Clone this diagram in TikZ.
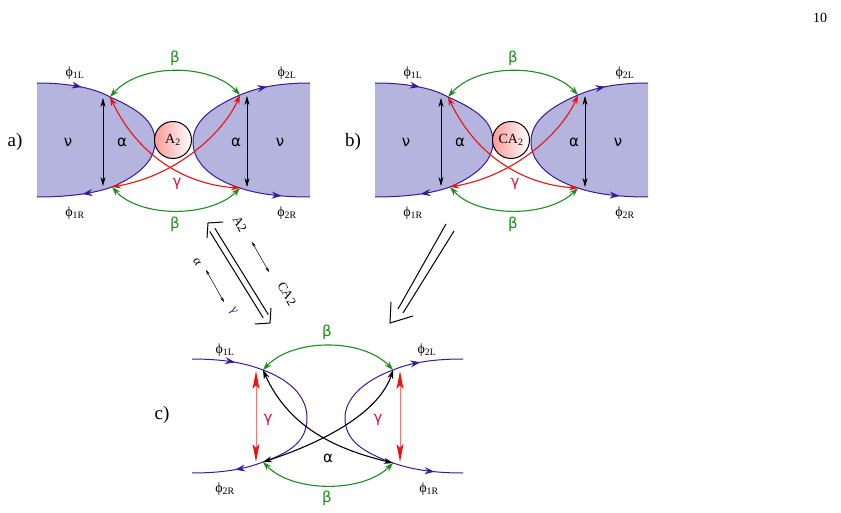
\documentclass[tikz,border=0pt]{standalone}
\usepackage{fontspec}
\setmainfont{Liberation Serif}
\newfontfamily\gk{DejaVu Sans}
\usetikzlibrary{arrows.meta,decorations.markings,calc}
\definecolor{lob}{HTML}{3A1A9A}
\definecolor{lobfill}{HTML}{B4B4DE}
\definecolor{grn}{HTML}{1E8C1E}
\definecolor{rd}{HTML}{EE1111}
\definecolor{gam}{HTML}{DD1144}
\tikzset{
  edge/.style={lob,line width=1pt},
  fw/.style={edge,postaction={decorate},decoration={markings,mark=at position 0.6 with {\arrow{Stealth[length=10pt,width=7pt]}}}},
  bw/.style={edge,postaction={decorate},decoration={markings,mark=at position 0.6 with {\arrowreversed{Stealth[length=10pt,width=7pt]}}}},
  dbl/.style={{Stealth[length=9pt,width=6pt]}-{Stealth[length=9pt,width=6pt]},line width=1.1pt},
  lab/.style={font=\fontsize{14}{14}\selectfont},
  rlab/.style={font=\fontsize{13}{13}\selectfont,inner sep=0pt,rotate=-60},
  glab/.style={font=\gk\fontsize{15}{15}\selectfont},
  thinarr/.style={{Stealth[length=9pt,width=5pt]}-{Stealth[length=9pt,width=5pt]},line width=0.6pt},
  small/.style={{Stealth[length=5pt,width=3pt]}-{Stealth[length=5pt,width=3pt]},line width=0.5pt},
  big/.style={line width=1pt},
}
\newcommand{\lobes}[1]{%
  \path[#1] (37,83) .. controls (75,83) and (98,90) .. (110,97)
    .. controls (145,112) and (155,125) .. (155,142)
    .. controls (155,160) and (140,175) .. (112,187)
    .. controls (98,192) and (75,197) .. (37,197) -- cycle;
  \path[#1] (310,83) .. controls (272,83) and (252,90) .. (240,95)
    .. controls (205,110) and (193,125) .. (193,142)
    .. controls (193,160) and (208,178) .. (240,188)
    .. controls (252,192) and (272,197) .. (310,197) -- cycle;
  \draw[edge] (110,97) .. controls (145,112) and (155,125) .. (155,142)
    .. controls (155,160) and (140,175) .. (112,187);
  \draw[edge] (240,95) .. controls (205,110) and (193,125) .. (193,142)
    .. controls (193,160) and (208,178) .. (240,188);
  \draw[fw] (37,83) .. controls (75,83) and (98,90) .. (110,97);
  \draw[bw] (37,197) .. controls (75,197) and (98,192) .. (112,187);
  \draw[bw] (310,83) .. controls (272,83) and (252,90) .. (240,95);
  \draw[fw] (240,188) .. controls (252,192) and (272,197) .. (310,197);
}
\newcommand{\panel}[3]{%
  \begin{scope}[xshift=#1]
  \lobes{fill=lobfill}
  \coordinate (tl) at (110,97); \coordinate (bl) at (112,187);
  \coordinate (tr) at (240,95); \coordinate (br) at (240,188);
  \draw[dbl,grn] (tl) .. controls (140,63) and (210,63) .. (tr);
  \draw[dbl,grn] (bl) .. controls (140,218) and (210,218) .. (br);
  \draw[dbl,rd] (tl) .. controls (140,160) and (190,185) .. (br);
  \draw[dbl,rd] (bl) .. controls (180,175) and (225,130) .. (tr);
  \draw[left color=red!40,right color=white,line width=1pt] (173,140) circle[radius=18.5pt];
  \node[lab] (c) at (173,140) {#2};
  \draw[thinarr] (103,98) -- (103,186);
  \draw[thinarr] (247,96) -- (247,187);
  \node[glab] at (68,142) {ν}; \node[glab] at (280,142) {ν};
  \node[glab] at (122,142) {α}; \node[glab] at (236,142) {α};
  \node[glab,grn] at (175,58) {β}; \node[glab,grn] at (175,224) {β};
  \node[glab,gam] at (177,184) {γ};
  \node[lab] at (75,73) {ϕ\textsubscript{1L}}; \node[lab] at (75,213) {ϕ\textsubscript{1R}};
  \node[lab] at (287,73) {ϕ\textsubscript{2L}}; \node[lab] at (287,213) {ϕ\textsubscript{2R}};
  \node[font=\fontsize{19}{19}\selectfont] at (15,142) {#3};
  \end{scope}}
\begin{document}
\begin{tikzpicture}[x=1pt,y=-1pt]
\useasboundingbox (0,0) rectangle (841,513);
\node[lab] at (820,18) {10};
\panel{0pt}{A\textsubscript{2}}{a)}
\panel{338pt}{CA\textsubscript{2}}{b)}
% panel c
\coordinate (ctl) at (263,370); \coordinate (cbl) at (263,462);
\coordinate (ctr) at (393,370); \coordinate (cbr) at (393,463);
\draw[edge] (ctl) .. controls (295,382) and (307,400) .. (307,418)
  .. controls (307,440) and (292,452) .. (cbl);
\draw[edge] (ctr) .. controls (361,382) and (345,400) .. (345,418)
  .. controls (345,440) and (362,452) .. (cbr);
\draw[fw] (192,359) .. controls (230,359) and (250,365) .. (ctl);
\draw[bw] (192,473) .. controls (230,473) and (250,467) .. (cbl);
\draw[bw] (463,359) .. controls (425,359) and (405,365) .. (ctr);
\draw[fw] (cbr) .. controls (405,467) and (425,473) .. (463,473);
\draw[dbl,grn] (ctl) .. controls (293,338) and (363,338) .. (ctr);
\draw[dbl,grn] (cbl) .. controls (293,493) and (363,493) .. (cbr);
\draw[dbl] (ctl) .. controls (290,430) and (340,450) .. (cbr);
\draw[dbl] (cbl) .. controls (330,440) and (380,410) .. (ctr);
\draw[rd!45!pink,line width=0.7pt] (256,380) -- (256,455);
\fill[rd] (256,371) -- (252.5,389) -- (256,385) -- (259.5,389) -- cycle;
\fill[rd] (256,462) -- (252.5,444) -- (256,448) -- (259.5,444) -- cycle;
\draw[rd!45!pink,line width=0.7pt] (400,380) -- (400,455);
\fill[rd] (400,371) -- (396.5,389) -- (400,385) -- (403.5,389) -- cycle;
\fill[rd] (400,462) -- (396.5,444) -- (400,448) -- (403.5,444) -- cycle;
\node[glab,gam] at (268,420) {γ}; \node[glab,gam] at (378,420) {γ};
\node[glab] at (328,458) {α};
\node[glab,grn] at (327,332) {β}; \node[glab,grn] at (327,498) {β};
\node[lab] at (225,350) {ϕ\textsubscript{1L}}; \node[lab] at (225,489) {ϕ\textsubscript{2R}};
\node[lab] at (427,350) {ϕ\textsubscript{2L}}; \node[lab] at (429,489) {ϕ\textsubscript{1R}};
\node[font=\fontsize{19}{19}\selectfont] at (162,415) {c)};
% left double arrow (both heads)
\draw[big] (214.8,228.2) -- (268.3,314.6);
\draw[big] (209.7,231.4) -- (263.2,317.8);
\draw[big] (223,222) -- (208,223) -- (207,238);
\draw[big] (255,324) -- (270,323) -- (271,308);
\node[rlab] at (240,224) {A2};
\node[rlab] at (287,294) {CA2};
\draw[small] (252,242) -- (269,272);
\node[rlab] at (197,262) {α};
\node[rlab,lob] at (233,311) {γ};
\draw[small] (206,270) -- (224,302);
% right double arrow
\draw[big] (446,224) -- (398,309);
\draw[big] (454,231) -- (403,313);
\draw[big] (391,302) -- (390,323) -- (413,316);
\end{tikzpicture}
\end{document}
